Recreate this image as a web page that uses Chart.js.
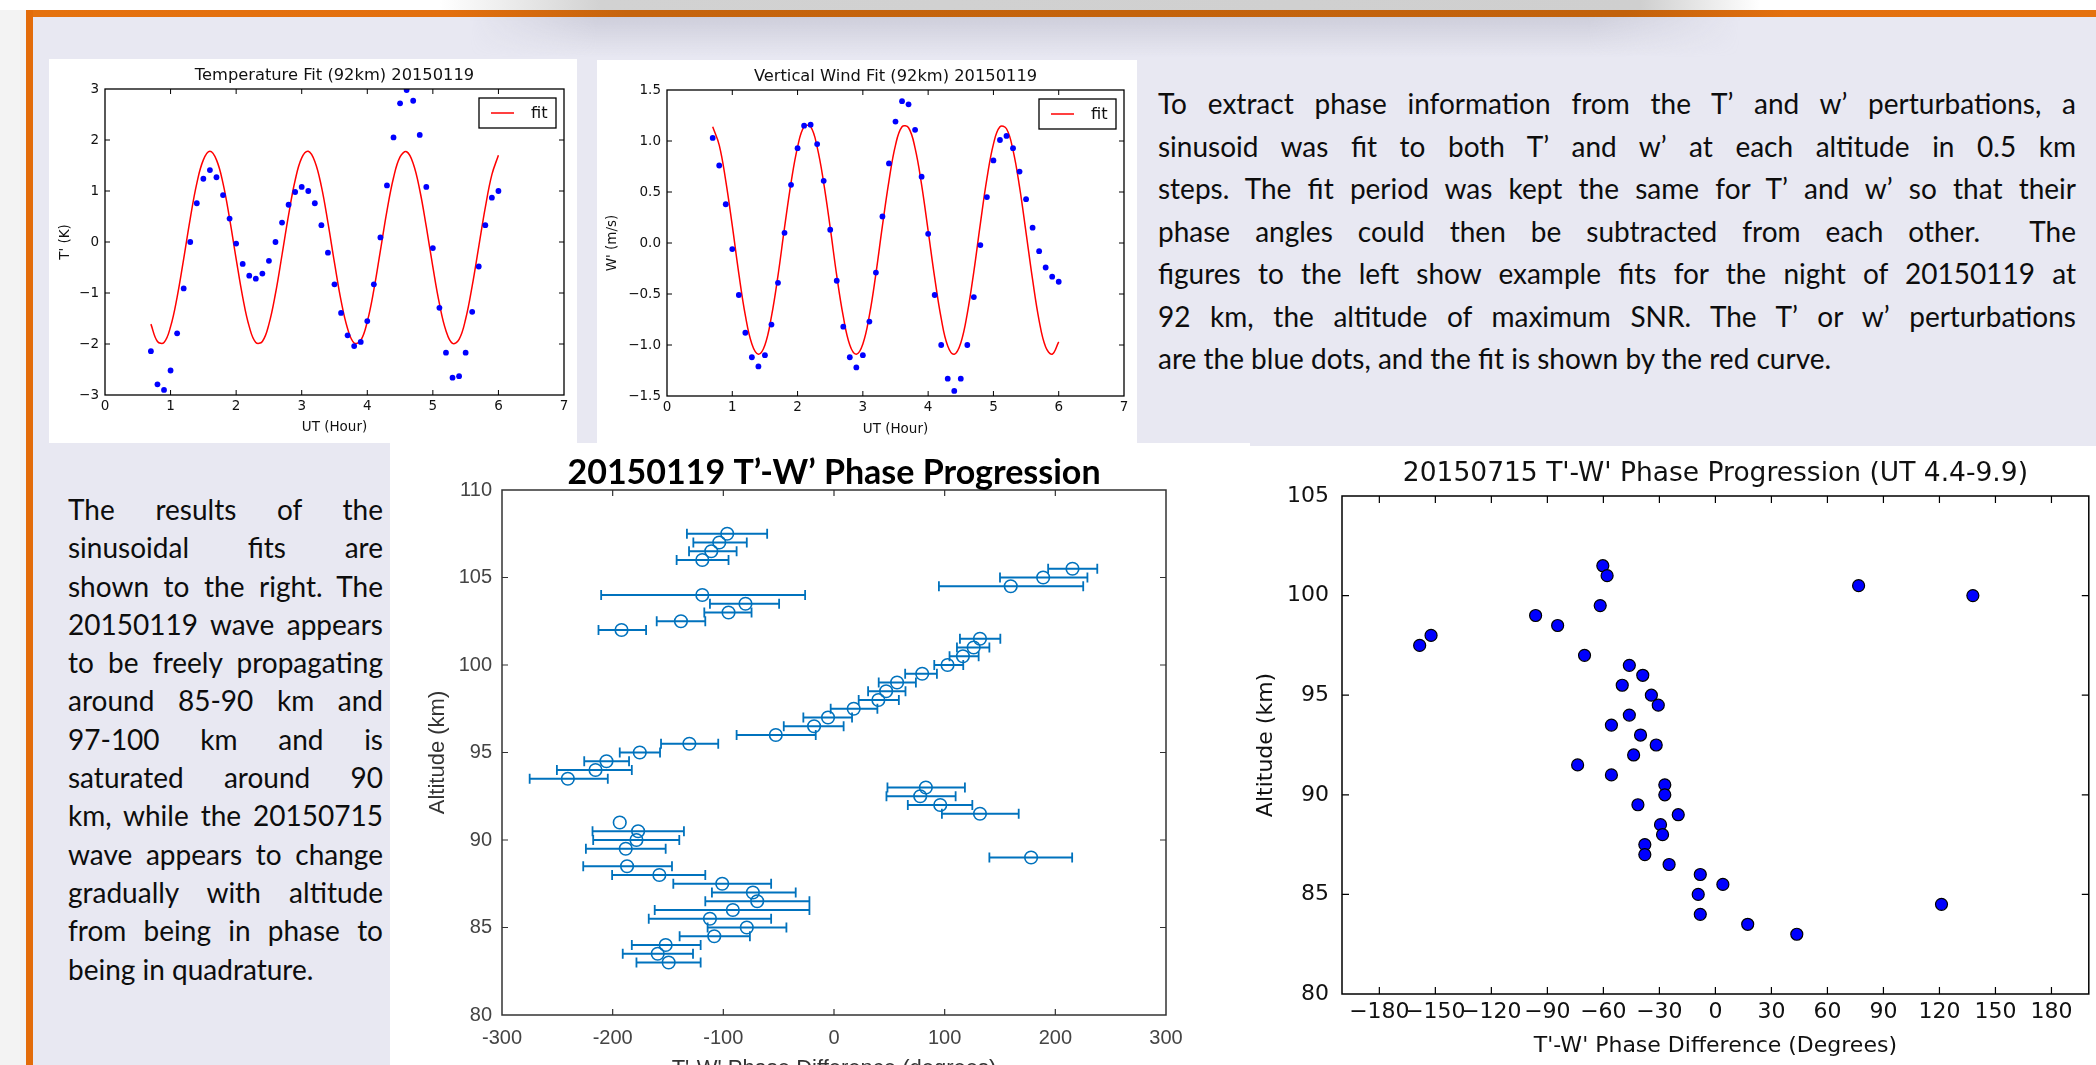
<!DOCTYPE html>
<html>
<head>
<meta charset="utf-8">
<title>T'-W' Phase Progression</title>
<script src="https://cdn.jsdelivr.net/npm/chart.js@4.4.1/dist/chart.umd.min.js"></script>
<style>
  html, body { margin: 0; padding: 0; }
  body { width: 2096px; height: 1065px; overflow: hidden; position: relative; background: #f3f3f3; }
  .topstrip { position: absolute; left: 0; top: 0; width: 2096px; height: 10px;
    background: linear-gradient(90deg, #fff 0, #fff 440px, #d2d2d2 600px, #cfcfcf 1640px, #fff 1760px, #fff 100%); }
  .poster { position: absolute; left: 26px; top: 10px; width: 2070px; height: 1055px; background: #e8e8f2; }
  .shade { position: absolute; left: 470px; top: 17px; width: 1270px; height: 40px;
    background: linear-gradient(180deg, rgba(185,185,200,0.55), rgba(185,185,200,0));
    -webkit-mask-image: linear-gradient(90deg, transparent, #000 10%, #000 88%, transparent); }
  .bar-top { position: absolute; left: 26px; top: 10px; width: 2070px; height: 7px;
    background: linear-gradient(90deg, #e5720f 0, #e3700f 420px, #c6640d 600px, #c2620c 1600px, #e3700f 1760px, #e5720f 100%); }
  .bar-left { position: absolute; left: 26px; top: 10px; width: 7px; height: 1055px; background: #e36c0a; }
  .panel { position: absolute; background: #fff; overflow: hidden; }
  .panel canvas { display: block; }
  .para { position: absolute; color: #0d0d0d; font-family: Lato, "Open Sans", sans-serif; font-size: 28px; }
  .para div { white-space: nowrap; text-align: justify; text-align-last: justify; }
  .para div.last { text-align-last: left; }
</style>
</head>
<body>
<div class="topstrip"></div>
<div class="poster"></div>
<div class="shade"></div>
<div class="bar-top"></div>
<div class="bar-left"></div>

<div class="panel" style="left:49px; top:59px; width:528px; height:384px;">
  <canvas id="tempChart" width="528" height="384"></canvas>
</div>
<div class="panel" style="left:597px; top:60px; width:540px; height:383px;">
  <canvas id="windChart" width="540" height="383"></canvas>
</div>
<div class="panel" style="left:390px; top:443px; width:860px; height:622px;">
  <canvas id="phase0119Chart" width="860" height="660"></canvas>
</div>
<div class="panel" style="left:1250px; top:446px; width:846px; height:619px;">
  <canvas id="phase0715Chart" width="846" height="619"></canvas>
</div>

<div class="para" style="left:1158px; top:82px; width:918px; line-height:42.5px;">
  <div>To extract phase information from the T’ and w’ perturbations, a</div>
  <div>sinusoid was fit to both T’ and w’ at each altitude in 0.5 km</div>
  <div>steps. The fit period was kept the same for T’ and w’ so that their</div>
  <div>phase angles could then be subtracted from each other.&nbsp; The</div>
  <div>figures to the left show example fits for the night of 20150119 at</div>
  <div>92 km, the altitude of maximum SNR. The T’ or w’ perturbations</div>
  <div class="last">are the blue dots, and the fit is shown by the red curve.</div>
</div>

<div class="para" style="left:68px; top:490px; width:315px; line-height:38.3px;">
  <div>The results of the</div>
  <div>sinusoidal fits are</div>
  <div>shown to the right. The</div>
  <div>20150119 wave appears</div>
  <div>to be freely propagating</div>
  <div>around 85-90 km and</div>
  <div>97-100 km and is</div>
  <div>saturated around 90</div>
  <div>km, while the 20150715</div>
  <div>wave appears to change</div>
  <div>gradually with altitude</div>
  <div>from being in phase to</div>
  <div class="last">being in quadrature.</div>
</div>

<script>
// ---- top fits (20150119, 92 km) ----
const hourTicks = [0, 1, 2, 3, 4, 5, 6, 7];
const utHours = [0.7, 0.8, 0.9, 1.0, 1.1, 1.2, 1.3, 1.4, 1.5, 1.6,
                 1.7, 1.8, 1.9, 2.0, 2.1, 2.2, 2.3, 2.4, 2.5, 2.6,
                 2.7, 2.8, 2.9, 3.0, 3.1, 3.2, 3.3, 3.4, 3.5, 3.6,
                 3.7, 3.8, 3.9, 4.0, 4.1, 4.2, 4.3, 4.4, 4.5, 4.6,
                 4.7, 4.8, 4.9, 5.0, 5.1, 5.2, 5.3, 5.4, 5.5, 5.6,
                 5.7, 5.8, 5.9, 6.0];
const tempObs = [-2.14, -2.79, -2.90, -2.52, -1.79, -0.91, 0.00, 0.76, 1.24, 1.41,
                 1.27, 0.92, 0.46, -0.03, -0.43, -0.66, -0.72, -0.62, -0.37, 0.00,
                 0.38, 0.73, 0.98, 1.08, 1.00, 0.76, 0.33, -0.21, -0.83, -1.39,
                 -1.83, -2.04, -1.96, -1.55, -0.83, 0.09, 1.11, 2.05, 2.72, 2.98,
                 2.77, 2.10, 1.08, -0.12, -1.29, -2.17, -2.66, -2.63, -2.17, -1.37,
                 -0.48, 0.33, 0.87, 1.00];
const tempFit = [-1.61, -1.95, -1.97, -1.66, -1.08, -0.33, 0.46, 1.15, 1.61, 1.78,
                 1.61, 1.15, 0.46, -0.33, -1.08, -1.66, -1.97, -1.95, -1.61, -1.01,
                 -0.25, 0.53, 1.21, 1.65, 1.78, 1.58, 1.09, 0.38, -0.41, -1.15,
                 -1.70, -1.98, -1.93, -1.56, -0.94, -0.17, 0.61, 1.26, 1.67, 1.77,
                 1.54, 1.02, 0.30, -0.49, -1.21, -1.74, -1.99, -1.91, -1.51, -0.86,
                 -0.09, 0.68, 1.32, 1.70];
const tempTicks = [-3, -2, -1, 0, 1, 2, 3];
const windObs = [1.03, 0.76, 0.38, -0.06, -0.51, -0.88, -1.12, -1.21, -1.10, -0.80,
                 -0.39, 0.10, 0.57, 0.93, 1.15, 1.16, 0.97, 0.61, 0.13, -0.37,
                 -0.82, -1.12, -1.22, -1.10, -0.77, -0.29, 0.26, 0.78, 1.19, 1.39,
                 1.36, 1.11, 0.65, 0.09, -0.51, -1.00, -1.33, -1.45, -1.33, -1.00,
                 -0.53, -0.02, 0.45, 0.81, 1.01, 1.05, 0.93, 0.70, 0.43, 0.15,
                 -0.08, -0.24, -0.33, -0.38];
const windFit = [1.14, 0.96, 0.61, 0.17, -0.30, -0.71, -0.99, -1.09, -1.00, -0.72,
                 -0.32, 0.15, 0.59, 0.94, 1.14, 1.14, 0.94, 0.59, 0.15, -0.32,
                 -0.72, -1.00, -1.09, -0.99, -0.71, -0.30, 0.17, 0.61, 0.96, 1.14,
                 1.13, 0.93, 0.57, 0.12, -0.34, -0.74, -1.01, -1.09, -0.98, -0.69,
                 -0.28, 0.19, 0.63, 0.97, 1.14, 1.12, 0.91, 0.55, 0.10, -0.36,
                 -0.76, -1.02, -1.09, -0.97];
const windTicks = [-1.5, -1.0, -0.5, 0, 0.5, 1.0, 1.5];

// ---- 20150119 phase difference with error bars ----
const alt0119 = [107.5, 107.0, 106.5, 106.0, 104.0, 103.5, 103.0, 102.5, 102.0,
                 96.0, 96.5, 97.0, 97.5, 98.0, 98.5, 99.0, 99.5, 100.0, 100.5, 101.0, 101.5,
                 105.5, 105.0, 104.5, 95.5, 95.0, 94.5, 94.0, 93.5,
                 93.0, 92.5, 92.0, 91.5, 89.0,
                 91.0, 90.5, 90.0, 89.5, 88.5, 88.0, 87.5, 87.0, 86.5, 86.0, 85.5, 85.0,
                 84.5, 84.0, 83.5, 83.0];
const phase0119 = [-96.5, -103.7, -110.9, -119.0, -119.0, -80.0, -95.3, -138.3, -192.0,
                   -52.6, -18.0, -5.4, 17.8, 40.1, 47.1, 57.0, 79.7, 102.6, 116.5, 126.2, 131.9,
                   215.5, 189.0, 159.7, -130.7, -175.5, -205.6, -215.5, -240.5,
                   83.0, 77.9, 96.0, 131.9, 178.1,
                   -193.6, -177.0, -178.5, -188.2, -187.0, -157.8, -101.0, -73.3, -69.4, -91.4, -112.1, -78.8,
                   -108.2, -152.1, -159.3, -149.4];
const phaseLo0119 = [-132.9, -127.1, -131.0, -142.2, -210.4, -112.1, -117.2, -160.2, -212.8,
                     -88.0, -45.4, -27.7, -3.0, 22.3, 30.8, 40.4, 64.3, 90.6, 104.4, 111.1, 113.8,
                     193.5, 150.0, 94.8, -156.3, -193.6, -225.7, -250.4, -275.0,
                     48.3, 47.4, 66.7, 97.5, 140.4,
                     -193.6, -218.2, -217.6, -224.2, -226.6, -200.5, -145.2, -110.3, -116.3, -162.0, -167.4, -114.2,
                     -139.5, -182.7, -190.9, -178.5];
const phaseHi0119 = [-60.4, -78.8, -88.0, -95.3, -26.1, -49.6, -74.5, -116.3, -169.8,
                     -16.5, 8.7, 16.3, 39.2, 58.6, 64.6, 74.0, 93.0, 116.8, 130.7, 140.4, 150.3,
                     237.9, 229.0, 225.2, -104.6, -157.2, -185.2, -182.7, -204.4,
                     118.3, 109.9, 125.0, 166.9, 215.2,
                     -193.6, -135.6, -139.8, -152.1, -146.4, -116.3, -56.8, -34.6, -22.2, -22.2, -56.8, -43.0,
                     -76.0, -120.5, -127.4, -120.5];
const phaseTicks0119 = [-300, -200, -100, 0, 100, 200, 300];
const altTicks0119 = [80, 85, 90, 95, 100, 105, 110];

// ---- 20150715 phase difference ----
const alt0715 = [101.5, 101.0, 100.5, 100.0, 99.5, 99.0, 98.5, 98.0, 97.5, 97.0,
                 96.5, 96.0, 95.5, 95.0, 94.5, 94.0, 93.5, 93.0, 92.5, 92.0,
                 91.5, 91.0, 90.5, 90.0, 89.5, 89.0, 88.5, 88.0, 87.5, 87.0,
                 86.5, 86.0, 85.5, 85.0, 84.5, 84.0, 83.5, 83.0];
const phase0715 = [-60.3, -58.0, 76.7, 137.9, -61.7, -96.3, -84.5, -152.3, -158.4, -70.1,
                   -46.1, -38.9, -49.9, -34.3, -30.6, -46.1, -55.7, -40.1, -31.7, -43.8,
                   -73.8, -55.7, -27.1, -27.1, -41.5, -19.9, -29.4, -28.3, -37.8, -37.8,
                   -24.8, -8.1, 4.0, -9.2, 121.1, -8.1, 17.3, 43.6];
const phaseTicks0715 = [-180, -150, -120, -90, -60, -30, 0, 30, 60, 90, 120, 150, 180];
const altTicks0715 = [80, 85, 90, 95, 100, 105];

const MPL = 'DejaVu Sans';
const MATLAB = 'Liberation Sans';

const minus = v => (v < 0 ? '\u2212' : '') + Math.abs(v);
const minus1 = v => (v < 0 ? '\u2212' : '') + Math.abs(v).toFixed(1);
const fixedTicks = arr => axis => { axis.ticks = arr.map(v => ({ value: v })); };
const fixWidth = w => s => { s.width = w; };
const fixHeight = h => s => { s.height = h; };
const pairs = (xs, ys) => xs.map((x, i) => ({ x: x, y: ys[i] }));

// box round the plot area with ticks pointing inwards on all four sides
const frameTicks = {
    id: 'frameTicks',
    afterDatasetsDraw(chart, args, o) {
        const { ctx, chartArea: a, scales: { x, y } } = chart;
        ctx.save();
        ctx.strokeStyle = o.color;
        ctx.lineWidth = o.tickWidth;
        ctx.beginPath();
        x.ticks.forEach(t => {
            const px = x.getPixelForValue(t.value);
            if (px <= a.left + 1 || px >= a.right - 1) return;
            ctx.moveTo(px, a.bottom); ctx.lineTo(px, a.bottom - o.len);
            ctx.moveTo(px, a.top); ctx.lineTo(px, a.top + o.len);
        });
        y.ticks.forEach(t => {
            const py = y.getPixelForValue(t.value);
            if (py <= a.top + 1 || py >= a.bottom - 1) return;
            ctx.moveTo(a.left, py); ctx.lineTo(a.left + o.len, py);
            ctx.moveTo(a.right, py); ctx.lineTo(a.right - o.len, py);
        });
        ctx.stroke();
        ctx.lineWidth = o.width;
        ctx.strokeRect(a.left, a.top, a.right - a.left, a.bottom - a.top);
        ctx.restore();
    }
};

// title centred over the plot area (not over the whole canvas)
const areaTitle = {
    id: 'areaTitle',
    afterDraw(chart, args, o) {
        const { ctx, chartArea: a } = chart;
        ctx.save();
        ctx.font = o.font;
        ctx.fillStyle = o.color;
        ctx.textAlign = 'center';
        ctx.textBaseline = 'middle';
        ctx.fillText(o.text, (a.left + a.right) / 2, a.top - o.gap);
        ctx.restore();
    }
};

// matplotlib style legend box in the upper right corner
const fitLegend = {
    id: 'fitLegend',
    afterDraw(chart, args, o) {
        const { ctx, chartArea: a } = chart;
        const bx = a.right - o.right - o.w, by = a.top + o.top;
        ctx.save();
        ctx.fillStyle = '#fff';
        ctx.fillRect(bx, by, o.w, o.h);
        ctx.strokeStyle = '#000';
        ctx.lineWidth = 1.3;
        ctx.strokeRect(bx, by, o.w, o.h);
        ctx.strokeStyle = '#ff0000';
        ctx.lineWidth = 1.5;
        ctx.beginPath();
        ctx.moveTo(bx + 12, by + o.h / 2);
        ctx.lineTo(bx + 35, by + o.h / 2);
        ctx.stroke();
        ctx.fillStyle = '#111';
        ctx.font = '16.3px "' + MPL + '"';
        ctx.textBaseline = 'middle';
        ctx.fillText(o.text, bx + 52, by + o.h / 2 + 1);
        ctx.restore();
    }
};

// horizontal error bars with caps, read from the lo / hi fields of each point
const errorBars = {
    id: 'errorBars',
    beforeDatasetsDraw(chart, args, o) {
        const { ctx, scales: { x, y } } = chart;
        ctx.save();
        ctx.strokeStyle = o.color;
        ctx.lineWidth = o.width;
        ctx.beginPath();
        chart.data.datasets[0].data.forEach(p => {
            if (p.lo === p.hi) return;
            const py = y.getPixelForValue(p.y);
            const x0 = x.getPixelForValue(p.lo);
            const x1 = x.getPixelForValue(p.hi);
            ctx.moveTo(x0, py); ctx.lineTo(x1, py);
            ctx.moveTo(x0, py - o.cap); ctx.lineTo(x0, py + o.cap);
            ctx.moveTo(x1, py - o.cap); ctx.lineTo(x1, py + o.cap);
        });
        ctx.stroke();
        ctx.restore();
    }
};

function mplAxis(opts) {
    return {
        type: 'linear',
        min: opts.min,
        max: opts.max,
        afterBuildTicks: fixedTicks(opts.ticks),
        afterFit: opts.fit,
        grid: { display: false, drawTicks: false },
        border: { display: false },
        ticks: {
            color: opts.tickColor || '#111', padding: opts.pad, autoSkip: false, maxRotation: 0,
            font: { family: opts.family || MPL, size: opts.size || 13.5 },
            callback: opts.fmt
        },
        title: {
            display: true, text: opts.title, color: opts.titleColor || '#111',
            font: { family: opts.family || MPL, size: opts.titleSize || 13.5 },
            padding: opts.titlePad
        }
    };
}

function drawFitChart(canvasId, title, obs, fit, yMin, yMax, yTicks, yFmt, yTitle, lay) {
    const ctx = document.getElementById(canvasId).getContext('2d');
    new Chart(ctx, {
        type: 'scatter',
        data: {
            datasets: [{
                label: 'data',
                data: pairs(utHours, obs),
                pointRadius: 2.9,
                pointBorderWidth: 0,
                backgroundColor: '#0000ff',
                borderColor: '#0000ff'
            }, {
                label: 'fit',
                data: pairs(utHours, fit),
                showLine: true,
                borderColor: '#ff0000',
                borderWidth: 1.5,
                pointRadius: 0,
                tension: 0.4
            }]
        },
        options: {
            responsive: false,
            animation: false,
            events: [],
            layout: { padding: { left: 0, right: lay.right, top: 30, bottom: 0 } },
            scales: {
                x: mplAxis({ min: 0, max: 7, ticks: hourTicks, fit: fixHeight(lay.xh), pad: 3,
                    fmt: v => minus(v), title: 'UT (Hour)', titlePad: { top: 0, bottom: lay.xtp } }),
                y: mplAxis({ min: yMin, max: yMax, ticks: yTicks, fit: fixWidth(lay.yw), pad: 6,
                    fmt: yFmt, title: yTitle, titlePad: { top: lay.ytp, bottom: 0 } })
            },
            plugins: {
                legend: { display: false },
                tooltip: { enabled: false },
                title: { display: false },
                areaTitle: { text: title, font: '16.3px "' + MPL + '"', color: '#111', gap: 13 },
                frameTicks: { color: '#000', width: 1.3, tickWidth: 1, len: 5 },
                fitLegend: { text: 'fit', right: 8, top: 9, w: 77, h: 30 }
            }
        },
        plugins: [frameTicks, areaTitle, fitLegend]
    });
}

drawFitChart('tempChart', 'Temperature Fit (92km) 20150119', tempObs, tempFit,
    -3, 3, tempTicks, v => minus(v), "T' (K)",
    { right: 13, xh: 48, yw: 56, xtp: 7, ytp: 8 });
drawFitChart('windChart', 'Vertical Wind Fit (92km) 20150119', windObs, windFit,
    -1.5, 1.5, windTicks, v => minus1(v), "W' (m/s)",
    { right: 13, xh: 47, yw: 70, xtp: 5, ytp: 7 });

// 20150119 phase progression (MATLAB style)
new Chart(document.getElementById('phase0119Chart').getContext('2d'), {
    type: 'scatter',
    data: {
        datasets: [{
            label: '20150119',
            data: alt0119.map((a, i) => ({ x: phase0119[i], y: a, lo: phaseLo0119[i], hi: phaseHi0119[i] })),
            pointRadius: 6.3,
            pointBorderWidth: 1.6,
            borderColor: '#0072bd',
            backgroundColor: 'rgba(0,0,0,0)'
        }]
    },
    options: {
        responsive: false,
        animation: false,
        events: [],
        layout: { padding: { left: 0, right: 84, top: 47, bottom: 0 } },
        scales: {
            x: mplAxis({ min: -300, max: 300, ticks: phaseTicks0119, fit: fixHeight(88), pad: 11,
                family: MATLAB, size: 20, tickColor: '#444', fmt: v => String(v),
                title: "T'-W' Phase Difference (degrees)",
                titleSize: 22, titleColor: '#333', titlePad: { top: 0, bottom: 20.8 } }),
            y: mplAxis({ min: 80, max: 110, ticks: altTicks0119, fit: fixWidth(112), pad: 10,
                family: MATLAB, size: 20, tickColor: '#444', fmt: v => String(v), title: 'Altitude (km)',
                titleSize: 22, titleColor: '#333', titlePad: { top: 34.8, bottom: 0 } })
        },
        plugins: {
            legend: { display: false },
            tooltip: { enabled: false },
            title: { display: false },
            areaTitle: { text: '20150119 T’-W’ Phase Progression', font: 'bold 34px Lato', color: '#000', gap: 17 },
            frameTicks: { color: '#333', width: 1.5, tickWidth: 1.2, len: 6 },
            errorBars: { color: '#0072bd', width: 1.8, cap: 5 }
        }
    },
    plugins: [frameTicks, errorBars, areaTitle]
});

// 20150715 phase progression (matplotlib style)
new Chart(document.getElementById('phase0715Chart').getContext('2d'), {
    type: 'scatter',
    data: {
        datasets: [{
            label: '20150715',
            data: pairs(phase0715, alt0715),
            pointRadius: 6,
            pointBorderWidth: 1.2,
            borderColor: '#000',
            backgroundColor: '#0000ff'
        }]
    },
    options: {
        responsive: false,
        animation: false,
        events: [],
        layout: { padding: { left: 0, right: 6, top: 50, bottom: 0 } },
        scales: {
            x: mplAxis({ min: -200, max: 200, ticks: phaseTicks0715, fit: fixHeight(71), pad: 5,
                size: 22, fmt: v => minus(v), title: "T'-W' Phase Difference (Degrees)",
                titleSize: 22, titlePad: { top: 0, bottom: 5.8 } }),
            y: mplAxis({ min: 80, max: 105, ticks: altTicks0715, fit: fixWidth(92), pad: 13,
                size: 22, fmt: v => minus(v), title: 'Altitude (km)',
                titleSize: 22, titlePad: { top: 2.8, bottom: 0 } })
        },
        plugins: {
            legend: { display: false },
            tooltip: { enabled: false },
            title: { display: false },
            areaTitle: { text: "20150715 T'-W' Phase Progression (UT 4.4-9.9)", font: '26.5px "' + MPL + '"', color: '#111', gap: 21.5 },
            frameTicks: { color: '#000', width: 1.5, tickWidth: 1.2, len: 7 }
        }
    },
    plugins: [frameTicks, areaTitle]
});
</script>
</body>
</html>
